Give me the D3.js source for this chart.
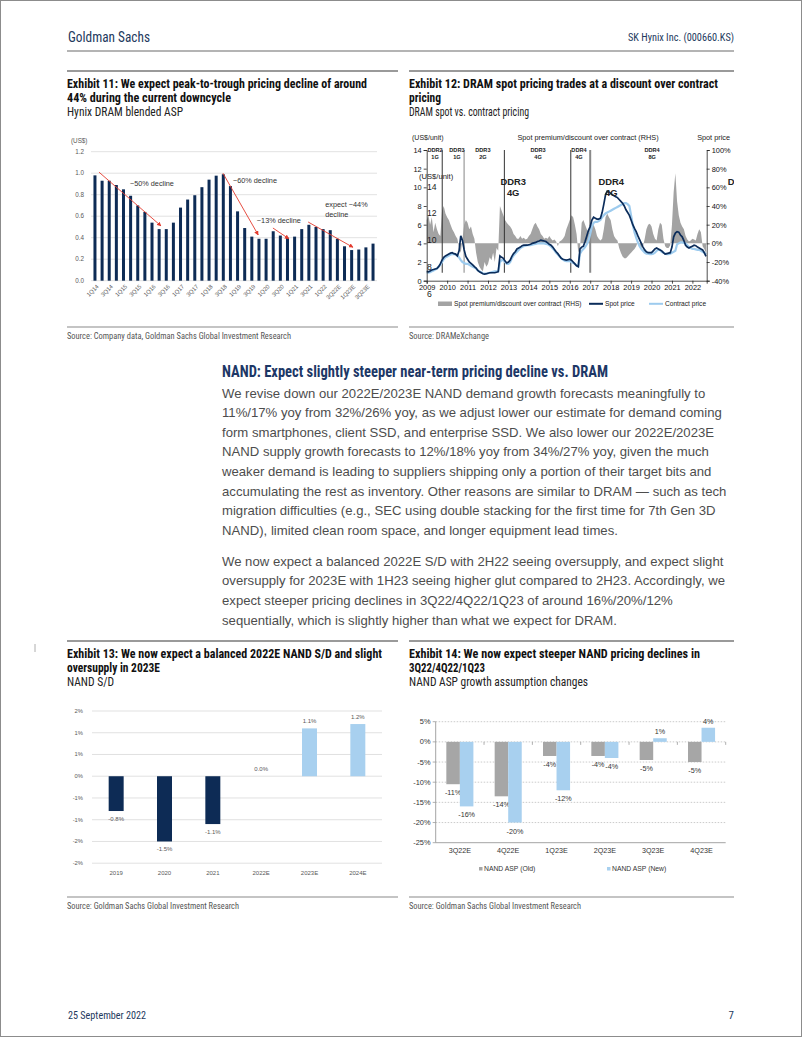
<!DOCTYPE html>
<html><head><meta charset="utf-8">
<script src="https://cdn.jsdelivr.net/npm/d3@7"></script>
<style>html,body{margin:0;padding:0;background:#fff}svg{display:block}</style>
</head><body>
<svg id="page" width="802" height="1037"></svg>
<script>
// ================= DATA =================
// Exhibit 11: Hynix DRAM blended ASP (US$)
const ex11Quarters = ["1Q14","2Q14","3Q14","4Q14","1Q15","2Q15","3Q15","4Q15","1Q16","2Q16","3Q16","4Q16",
  "1Q17","2Q17","3Q17","4Q17","1Q18","2Q18","3Q18","4Q18","1Q19","2Q19","3Q19","4Q19","1Q20","2Q20","3Q20","4Q20",
  "1Q21","2Q21","3Q21","4Q21","1Q22","2Q22","3Q22E","4Q22E","1Q23E","2Q23E","3Q23E","4Q23E"];
const ex11Asp = [0.98,0.93,0.93,0.89,0.85,0.79,0.70,0.64,0.54,0.48,0.48,0.54,
  0.68,0.755,0.795,0.87,0.94,0.977,0.99,0.88,0.645,0.49,0.41,0.39,0.39,0.46,0.42,0.40,
  0.41,0.48,0.52,0.50,0.48,0.47,0.39,0.32,0.285,0.29,0.31,0.345];
const ex11Ticks = [0,0.2,0.4,0.6,0.8,1.0,1.2];
const ex11Arrows = [ // [fromIndex, fromValue, toIndex, toValue]
  [0.56,1.01,9.26,0.51],[17.95,1.00,22.9,0.425],[24.96,0.49,27.2,0.39],[29.9,0.546,36.2,0.31]];
const ex11Notes = [ // [index, value, text]
  [4.9,0.88,"~50% decline"],[19.35,0.905,"~60% decline"],[22.7,0.535,"~13% decline"],
  [32.3,0.685,"expect ~44%"],[32.3,0.59,"decline"]];

// Exhibit 12: DRAM spot vs contract (monthly from Jan 2009)
const ex12Start = 2009;
const ex12Spot = [
  1.0,0.95,1.05,1.15,1.2,1.25,1.3,1.5,1.8,2.2,2.5,2.65,
  2.75,2.85,2.95,3.0,2.9,2.85,2.65,3.2,4.8,4.3,3.3,2.6,
  2.3,2.0,1.85,1.7,1.5,1.35,1.1,0.95,0.85,0.75,0.7,0.75,
  0.8,0.85,0.85,0.85,0.85,0.9,0.96,2.65,2.5,2.4,2.1,1.9,
  2.0,2.2,2.6,2.9,3.1,3.4,3.5,3.6,3.75,3.8,3.8,3.8,
  3.85,3.9,4.0,4.05,4.1,4.2,4.25,4.35,4.3,4.25,4.2,4.05,
  3.9,3.8,3.6,3.35,3.1,2.9,2.65,2.4,2.3,2.25,2.2,2.25,
  2.3,2.2,2.0,1.8,1.6,1.5,3.4,3.6,3.7,4.2,4.8,5.4,
  5.8,6.5,6.8,6.7,6.6,6.6,6.7,7.3,8.2,9.2,9.6,9.5,
  9.35,9.2,9.1,9.0,8.9,8.7,8.5,8.3,8.0,7.6,7.3,7.0,
  6.5,6.0,5.6,5.25,4.8,4.4,4.0,3.6,3.3,3.1,3.0,3.0,
  3.0,3.2,3.4,3.5,3.4,3.3,3.2,3.0,2.85,2.9,2.95,3.0,
  3.6,4.7,5.1,5.25,5.2,4.9,4.7,4.3,3.8,3.6,3.5,3.6,
  3.7,3.8,3.75,3.6,3.5,3.4,3.3,3.0,2.6];
const ex12Contract = [
  0.85,0.85,0.9,1.0,1.1,1.2,1.3,1.5,1.7,2.0,2.3,2.5,
  2.6,2.7,2.8,2.85,2.85,2.8,2.7,2.5,2.2,2.0,1.9,1.8,
  1.8,1.7,1.6,1.5,1.4,1.3,1.1,1.0,0.9,0.8,0.75,0.75,
  0.8,0.85,0.9,0.95,1.0,1.0,1.0,2.0,2.2,2.2,2.0,1.8,
  1.8,2.0,2.4,2.7,2.9,3.1,3.3,3.5,3.6,3.7,3.75,3.8,
  3.8,3.8,3.85,3.9,3.95,4.0,4.0,4.0,4.0,4.0,3.95,3.9,
  3.8,3.65,3.45,3.25,3.0,2.8,2.6,2.4,2.25,2.15,2.1,2.1,
  2.1,2.0,1.9,1.8,1.65,1.55,2.9,3.2,3.4,3.6,3.9,4.3,
  5.0,5.8,6.2,6.3,6.3,6.4,6.5,6.8,7.0,7.2,7.3,7.4,
  7.5,7.6,7.7,7.8,7.9,8.0,8.1,8.2,8.3,8.3,8.2,8.0,
  7.0,6.0,5.2,4.6,4.1,3.7,3.4,3.2,3.0,2.9,2.9,2.85,
  2.85,2.9,3.0,3.2,3.3,3.3,3.1,3.0,2.9,2.85,2.85,2.9,
  3.0,3.1,3.2,3.9,4.0,4.1,4.1,4.05,4.0,3.8,3.6,3.5,
  3.4,3.4,3.35,3.3,3.3,3.2,3.1,3.0,2.8];
const ex12Premium = [
  25,30,20,28,12,22,15,10,8,35,40,32,
  28,25,20,15,12,8,5,-5,-10,5,20,25,
  22,15,18,10,5,-10,-20,-25,-28,-30,-20,-25,
  -22,-15,-18,-10,-20,-5,-8,40,35,30,25,22,
  20,18,15,10,8,5,5,8,5,6,4,5,
  8,10,15,20,22,18,15,10,8,5,6,5,
  8,5,3,4,2,-3,2,3,5,8,15,20,
  25,30,28,20,10,-10,-5,22,25,20,15,12,
  10,18,20,15,8,5,3,5,15,28,32,28,
  25,15,8,5,3,-5,-10,-14,-16,-16,-14,-12,
  -10,-8,-6,-3,2,-3,-5,-3,5,15,20,21,
  18,10,5,3,15,22,20,5,-3,-5,-5,-2,
  20,55,75,45,30,22,18,15,8,4,2,3,
  5,4,3,10,15,12,-3,-6,-10];
const ex12LeftTicks = [0,2,4,6,8,10,12,14];
const ex12RightTicks = [-40,-20,0,20,40,60,80,100];
const ex12Years = [2009,2010,2011,2012,2013,2014,2015,2016,2017,2018,2019,2020,2021,2022];
const ex12Breaks = [2009.76,2010.83,2012.8,2016.05,2017.0];
const ex12Gens = [["DDR2","1G",2009.41],["DDR3","1G",2010.48],["DDR3","2G",2011.75],
  ["DDR3","4G",2014.45],["DDR4","4G",2016.45],["DDR4","8G",2020.03]];

// Exhibit 13: NAND S/D
const ex13Years = ["2019","2020","2021","2022E","2023E","2024E"];
const ex13Values = [-0.8,-1.5,-1.1,0.0,1.1,1.2];
const ex13Ticks = [-2,-1.5,-1,-0.5,0,0.5,1,1.5];

// Exhibit 14: NAND ASP growth assumption changes
const ex14Quarters = ["3Q22E","4Q22E","1Q23E","2Q23E","3Q23E","4Q23E"];
const ex14Old = [-10.5,-13.5,-3.5,-3.5,-4.5,-5.0];
const ex14New = [-16,-20,-12,-4,0.9,3.5];
const ex14Ticks = [-25,-20,-15,-10,-5,0,5];

// ================= RENDER =================
const svg = d3.select("#page");
const COND = "'Liberation Sans Narrow','Roboto Condensed','Arial Narrow','Liberation Sans',sans-serif";
const SANS = "'Liberation Sans',Arial,Helvetica,sans-serif";
const NAVY = "#23395d";
const DARK = "#0d2b55", LIGHT = "#a8d0ef", GREY = "#a6a6a6";

function txt(g,x,y,s,o={}){
  const t=g.append("text").attr("x",x).attr("y",y).text(s)
    .attr("font-family",o.ff||SANS).attr("font-size",o.fs||8).attr("fill",o.fill||"#333");
  if(o.fw) t.attr("font-weight",o.fw);
  if(o.anchor) t.attr("text-anchor",o.anchor);
  if(o.len) t.attr("textLength",o.len).attr("lengthAdjust","spacingAndGlyphs");
  return t;
}
function hline(g,x1,x2,y,c,w){g.append("line").attr("x1",x1).attr("x2",x2).attr("y1",y).attr("y2",y).attr("stroke",c).attr("stroke-width",w);}
const roundAway = v => Math.sign(v)*Math.round(Math.abs(v));

const defs = svg.append("defs");
defs.append("clipPath").attr("id","clipR").append("rect").attr("x",404).attr("y",60).attr("width",330).attr("height",900);
defs.append("marker").attr("id","arr").attr("viewBox","0 0 10 10").attr("refX",9).attr("refY",5)
  .attr("markerWidth",5).attr("markerHeight",5).attr("orient","auto")
  .append("path").attr("d","M0,0L10,5L0,10z").attr("fill","#e33b2e");

// page frame
svg.append("rect").attr("x",0.5).attr("y",0.5).attr("width",801).attr("height",1036).attr("fill","none").attr("stroke","#8c8c8c");

// header / footer
const page = svg.append("g");
txt(page,68,42,"Goldman Sachs",{ff:COND,fs:14,fill:NAVY,len:82});
txt(page,734,41,"SK Hynix Inc. (000660.KS)",{ff:COND,fs:11,fill:NAVY,anchor:"end",len:106});
hline(page,67,734,51,"#b4b4b4",2);
txt(page,68,1019,"25 September 2022",{ff:COND,fs:11,fill:NAVY,len:78});
txt(page,734,1019,"7",{ff:COND,fs:11,fill:NAVY,anchor:"end"});
page.append("line").attr("x1",35).attr("x2",35).attr("y1",644).attr("y2",652).attr("stroke","#999").attr("stroke-width",0.8);

// exhibit frames
function frame(x1,x2,yTop,lines,sub,ySrc,src,srcLen){
  hline(page,x1,x2,yTop,"#9a9a9a",2);
  lines.forEach((l,i)=>txt(page,x1,yTop+17+i*14,l[0],{ff:COND,fs:12.5,fw:"bold",fill:"#111",len:l[1]}));
  txt(page,x1,yTop+17+lines.length*14,sub[0],{ff:COND,fs:12,fill:"#222",len:sub[1]});
  hline(page,x1,x2,ySrc,"#c4c4c4",2);
  txt(page,x1,ySrc+12,src,{ff:COND,fs:8.5,fill:"#555",len:srcLen});
}
frame(67,398,71,[["Exhibit 11: We expect peak-to-trough pricing decline of around",300],["44% during the current downcycle",164]],
  ["Hynix DRAM blended ASP",116],327,"Source: Company data, Goldman Sachs Global Investment Research",224);
frame(409,734,71,[["Exhibit 12: DRAM spot pricing trades at a discount over contract",309],["pricing",32]],
  ["DRAM spot vs. contract pricing",120],327,"Source: DRAMeXchange",80);
frame(67,398,641,[["Exhibit 13: We now expect a balanced 2022E NAND S/D and slight",315],["oversupply in 2023E",93]],
  ["NAND S/D",47],897,"Source: Goldman Sachs Global Investment Research",172);
frame(409,734,641,[["Exhibit 14: We now expect steeper NAND pricing declines in",291],["3Q22/4Q22/1Q23",76]],
  ["NAND ASP growth assumption changes",179],897,"Source: Goldman Sachs Global Investment Research",172);

// ---------- body text ----------
const body = svg.append("g");
txt(body,222,377,"NAND: Expect slightly steeper near-term pricing decline vs. DRAM",{ff:COND,fs:16,fw:"bold",fill:"#1d3766",len:386});
const para1 = [
 "We revise down our 2022E/2023E NAND demand growth forecasts meaningfully to",
 "11%/17% yoy from 32%/26% yoy, as we adjust lower our estimate for demand coming",
 "form smartphones, client SSD, and enterprise SSD. We also lower our 2022E/2023E",
 "NAND supply growth forecasts to 12%/18% yoy from 34%/27% yoy, given the much",
 "weaker demand is leading to suppliers shipping only a portion of their target bits and",
 "accumulating the rest as inventory. Other reasons are similar to DRAM \u2014 such as tech",
 "migration difficulties (e.g., SEC using double stacking for the first time for 7th Gen 3D",
 "NAND), limited clean room space, and longer equipment lead times."];
const para2 = [
 "We now expect a balanced 2022E S/D with 2H22 seeing oversupply, and expect slight",
 "oversupply for 2023E with 1H23 seeing higher glut compared to 2H23. Accordingly, we",
 "expect steeper pricing declines in 3Q22/4Q22/1Q23 of around 16%/20%/12%",
 "sequentially, which is slightly higher than what we expect for DRAM."];
const LH = 19.6;
const t0 = txt(body,222,397.5,para1[0],{fs:13,fill:"#4d4d4d"});
const k = 484 / t0.node().getComputedTextLength();
const bfs = 13*k;
t0.attr("font-size",bfs);
para1.slice(1).forEach((l,i)=>txt(body,222,397.5+(i+1)*LH,l,{fs:bfs,fill:"#4d4d4d"}));
const p2y = 397.5+7*LH+LH+11.5;
para2.forEach((l,i)=>txt(body,222,p2y+i*LH,l,{fs:bfs,fill:"#4d4d4d"}));

// ---------- Exhibit 11 ----------
{
  const g = svg.append("g");
  const x = d3.scaleBand().domain(ex11Quarters).range([91.4,376.6]).paddingInner(0.58).paddingOuter(0.29);
  const y = d3.scaleLinear().domain([0,1.2]).range([280.7,151.7]);
  const xi = i => x(ex11Quarters[0]) + x.bandwidth()/2 + i*x.step();
  g.selectAll(".grid").data(ex11Ticks).join("line").attr("x1",91).attr("x2",377)
    .attr("y1",d=>y(d)).attr("y2",d=>y(d)).attr("stroke","#d9d9d9").attr("stroke-width",0.8);
  g.selectAll(".yl").data(ex11Ticks).join("text").attr("x",84).attr("y",d=>y(d)+2.2)
    .attr("text-anchor","end").attr("font-family",SANS).attr("font-size",6.3).attr("fill","#595959").text(d3.format(".1f"));
  txt(g,71,143,"(US$)",{fs:6.3,fill:"#595959"});
  g.selectAll(".bar").data(ex11Asp).join("rect").attr("x",(d,i)=>x(ex11Quarters[i])).attr("width",x.bandwidth())
    .attr("y",d=>y(d)).attr("height",d=>y(0)-y(d)).attr("fill",DARK);
  g.selectAll(".xl").data(ex11Quarters.filter((d,i)=>i%2===0)).join("text")
    .attr("transform",d=>`translate(${x(d)+x.bandwidth()/2+4},287) rotate(-45)`)
    .attr("text-anchor","end").attr("font-family",SANS).attr("font-size",5.8).attr("fill","#595959").text(d=>d);
  g.selectAll(".arr").data(ex11Arrows).join("line").attr("x1",d=>xi(d[0])).attr("y1",d=>y(d[1]))
    .attr("x2",d=>xi(d[2])).attr("y2",d=>y(d[3])).attr("stroke","#e33b2e").attr("stroke-width",0.9).attr("marker-end","url(#arr)");
  g.selectAll(".note").data(ex11Notes).join("text").attr("x",d=>xi(d[0])).attr("y",d=>y(d[1]))
    .attr("font-family",SANS).attr("font-size",7.3).attr("fill","#333").text(d=>d[2]);
}

// ---------- Exhibit 12 ----------
{
  const g = svg.append("g").attr("clip-path","url(#clipR)");
  const x = d3.scaleLinear().domain([2009,2022.7]).range([426.7,706.7]);
  const yL = d3.scaleLinear().domain([0,14]).range([280.7,150]);
  const yR = d3.scaleLinear().domain([-40,100]).range([280.7,150]);
  const dt = i => ex12Start + i/12;
  // premium area
  g.append("path").datum(ex12Premium).attr("fill","#a3a3a3")
    .attr("d",d3.area().x((d,i)=>x(dt(i))).y0(yR(0)).y1(d=>yR(d)));
  // generation breaks
  const bc = ["#333","#9a9a9a","#333","#333","#8a8a8a"], bw=[1,1.2,1,1,2];
  g.selectAll(".brk").data(ex12Breaks).join("line").attr("x1",d=>x(d)).attr("x2",d=>x(d))
    .attr("y1",yL(14)).attr("y2",yL(0.85)).attr("stroke",(d,i)=>bc[i]).attr("stroke-width",(d,i)=>bw[i]);
  // lines
  g.append("path").datum(ex12Contract).attr("fill","none").attr("stroke","#9dcbee").attr("stroke-width",2.2)
    .attr("d",d3.line().x((d,i)=>x(dt(i))).y(d=>yL(d)));
  g.append("path").datum(ex12Spot).attr("fill","none").attr("stroke","#0b2c5a").attr("stroke-width",1.7)
    .attr("d",d3.line().x((d,i)=>x(dt(i))).y(d=>yL(d)));
  // axes
  const aL = g.append("g").attr("transform",`translate(${x(2009)},0)`).call(d3.axisLeft(yL).tickValues(ex12LeftTicks).tickSize(3).tickPadding(2));
  const aR = g.append("g").attr("transform",`translate(${x(2022.7)},0)`).call(d3.axisRight(yR).tickValues(ex12RightTicks).tickSize(3).tickPadding(2).tickFormat(d=>d+"%"));
  const aB = g.append("g").attr("transform",`translate(0,${yL(0)})`).call(d3.axisBottom(x).tickValues(ex12Years).tickSize(3).tickPadding(1.5).tickFormat(d3.format("d")));
  [aL,aR,aB].forEach(a=>{a.attr("font-family",SANS).attr("font-size",7.4);a.selectAll("path,line").attr("stroke","#222").attr("stroke-width",0.8);a.selectAll("text").attr("fill","#111");});
  // top labels
  txt(g,412,140,"(US$/unit)",{fs:7,fill:"#222"});
  txt(g,588,140,"Spot premium/discount over contract (RHS)",{fs:7.3,fill:"#222",anchor:"middle"});
  txt(g,730,140,"Spot price",{fs:7.3,fill:"#222",anchor:"end"});
  ex12Gens.forEach(d=>{
    txt(g,x(d[2]),151.5,d[0],{fs:5.6,fw:"bold",fill:"#222",anchor:"middle"});
    txt(g,x(d[2]),158.5,d[1],{fs:5.6,fw:"bold",fill:"#222",anchor:"middle"});
  });
  // ghost overlay labels present in the original picture
  const yG = d3.scaleLinear().domain([6,14]).range([296.5,189.5]);
  txt(g,419,179,"(US$/unit)",{fs:7.6,fill:"#222"});
  [14,12,10,8,6].forEach(v=>txt(g,427,yG(v),String(v),{fs:8.6,fill:"#222"}));
  [["DDR3","4G",2013.23],["DDR4","4G",2018.03],["DDR4","8G",2024.35]].forEach(d=>{
    txt(g,x(d[2]),185,d[0],{fs:9.4,fw:"bold",fill:"#222",anchor:"middle"});
    txt(g,x(d[2]),195.5,d[1],{fs:9.4,fw:"bold",fill:"#222",anchor:"middle"});
  });
  // legend
  g.append("rect").attr("x",438).attr("y",301.5).attr("width",14).attr("height",4.5).attr("fill","#a3a3a3");
  txt(g,454,306,"Spot premium/discount over contract (RHS)",{fs:6.6,fill:"#222"});
  hline(g,589,603,303.8,"#0b2c5a",2);
  txt(g,605,306,"Spot price",{fs:6.6,fill:"#222"});
  hline(g,649,663,303.8,"#9dcbee",2);
  txt(g,665,306,"Contract price",{fs:6.6,fill:"#222"});
}

// ---------- Exhibit 13 ----------
{
  const g = svg.append("g");
  const x = d3.scaleBand().domain(ex13Years).range([92,382]).paddingInner(0.69).paddingOuter(0.345);
  const y = d3.scaleLinear().domain([-2,1.5]).range([863.2,711]);
  g.selectAll(".grid").data(ex13Ticks).join("line").attr("x1",92).attr("x2",382)
    .attr("y1",d=>y(d)).attr("y2",d=>y(d)).attr("stroke","#d9d9d9").attr("stroke-width",0.8);
  g.selectAll(".yl").data(ex13Ticks).join("text").attr("x",83).attr("y",d=>y(d)+2)
    .attr("text-anchor","end").attr("font-family",SANS).attr("font-size",5.8).attr("fill","#595959").text(d=>roundAway(d)+"%");
  g.selectAll(".bar").data(ex13Values).join("rect").attr("x",(d,i)=>x(ex13Years[i])).attr("width",x.bandwidth())
    .attr("y",d=>y(Math.max(0,d))).attr("height",d=>Math.abs(y(d)-y(0)))
    .attr("fill",(d,i)=>i>=4?LIGHT:DARK);
  g.selectAll(".dl").data(ex13Values).join("text").attr("x",(d,i)=>x(ex13Years[i])+x.bandwidth()/2)
    .attr("y",d=>d<0?y(d)+9.5:y(d)-5).attr("text-anchor","middle").attr("font-family",SANS).attr("font-size",6)
    .attr("fill","#595959").text(d=>d.toFixed(1)+"%");
  g.selectAll(".xl").data(ex13Years).join("text").attr("x",d=>x(d)+x.bandwidth()/2).attr("y",874.5)
    .attr("text-anchor","middle").attr("font-family",SANS).attr("font-size",6).attr("fill","#595959").text(d=>d);
}

// ---------- Exhibit 14 ----------
{
  const g = svg.append("g");
  const x = d3.scaleBand().domain(ex14Quarters).range([435.7,725.7]).paddingInner(0.44).paddingOuter(0.22);
  const xs = d3.scaleBand().domain(["old","new"]).range([0,x.bandwidth()]);
  const y = d3.scaleLinear().domain([-25,5]).range([842.7,721.7]);
  g.selectAll(".grid").data(ex14Ticks.filter(d=>d>-25)).join("line").attr("x1",435.7).attr("x2",725.7)
    .attr("y1",d=>y(d)).attr("y2",d=>y(d)).attr("stroke","#b5b5b5").attr("stroke-width",0.7).attr("stroke-dasharray","1.5,1.5");
  hline(g,435.7,725.7,y(-25),"#9a9a9a",0.9);
  g.append("line").attr("x1",435.7).attr("x2",435.7).attr("y1",y(5)).attr("y2",y(-25)).attr("stroke","#9a9a9a").attr("stroke-width",0.9);
  g.selectAll(".ytk").data(ex14Ticks).join("line").attr("x1",432.7).attr("x2",435.7)
    .attr("y1",d=>y(d)).attr("y2",d=>y(d)).attr("stroke","#9a9a9a").attr("stroke-width",0.8);
  g.selectAll(".xtk").data(ex14Quarters.slice(1).concat(["end"])).join("line")
    .attr("x1",(d,i)=>435.7+(i+1)*x.step()).attr("x2",(d,i)=>435.7+(i+1)*x.step())
    .attr("y1",y(0)).attr("y2",y(0)+3).attr("stroke","#9a9a9a").attr("stroke-width",0.8);
  g.selectAll(".yl").data(ex14Ticks).join("text").attr("x",430.5).attr("y",d=>y(d)+2.6)
    .attr("text-anchor","end").attr("font-family",SANS).attr("font-size",7.4).attr("fill","#333").text(d=>d+"%");
  const series = [["old",ex14Old,GREY],["new",ex14New,LIGHT]];
  series.forEach(([key,vals,col])=>{
    g.selectAll(".b"+key).data(vals).join("rect").attr("x",(d,i)=>x(ex14Quarters[i])+xs(key)).attr("width",xs.bandwidth())
      .attr("y",d=>y(Math.max(0,d))).attr("height",d=>Math.abs(y(d)-y(0))).attr("fill",col);
    g.selectAll(".l"+key).data(vals).join("text").attr("x",(d,i)=>x(ex14Quarters[i])+xs(key)+xs.bandwidth()/2)
      .attr("y",d=>d<0?y(d)+11:y(d)-4).attr("text-anchor","middle").attr("font-family",SANS).attr("font-size",7.2)
      .attr("fill","#333").text(d=>roundAway(d)+"%");
  });
  g.selectAll(".xl").data(ex14Quarters).join("text").attr("x",d=>x(d)+x.bandwidth()/2).attr("y",853)
    .attr("text-anchor","middle").attr("font-family",SANS).attr("font-size",7.2).attr("fill","#333").text(d=>d);
  g.append("rect").attr("x",479).attr("y",867).attr("width",3.5).attr("height",3.5).attr("fill",GREY);
  txt(g,484,871,"NAND ASP (Old)",{fs:6.8,fill:"#333"});
  g.append("rect").attr("x",607).attr("y",867).attr("width",3.5).attr("height",3.5).attr("fill",LIGHT);
  txt(g,612,871,"NAND ASP (New)",{fs:6.8,fill:"#333"});
}
</script>
</body></html>
